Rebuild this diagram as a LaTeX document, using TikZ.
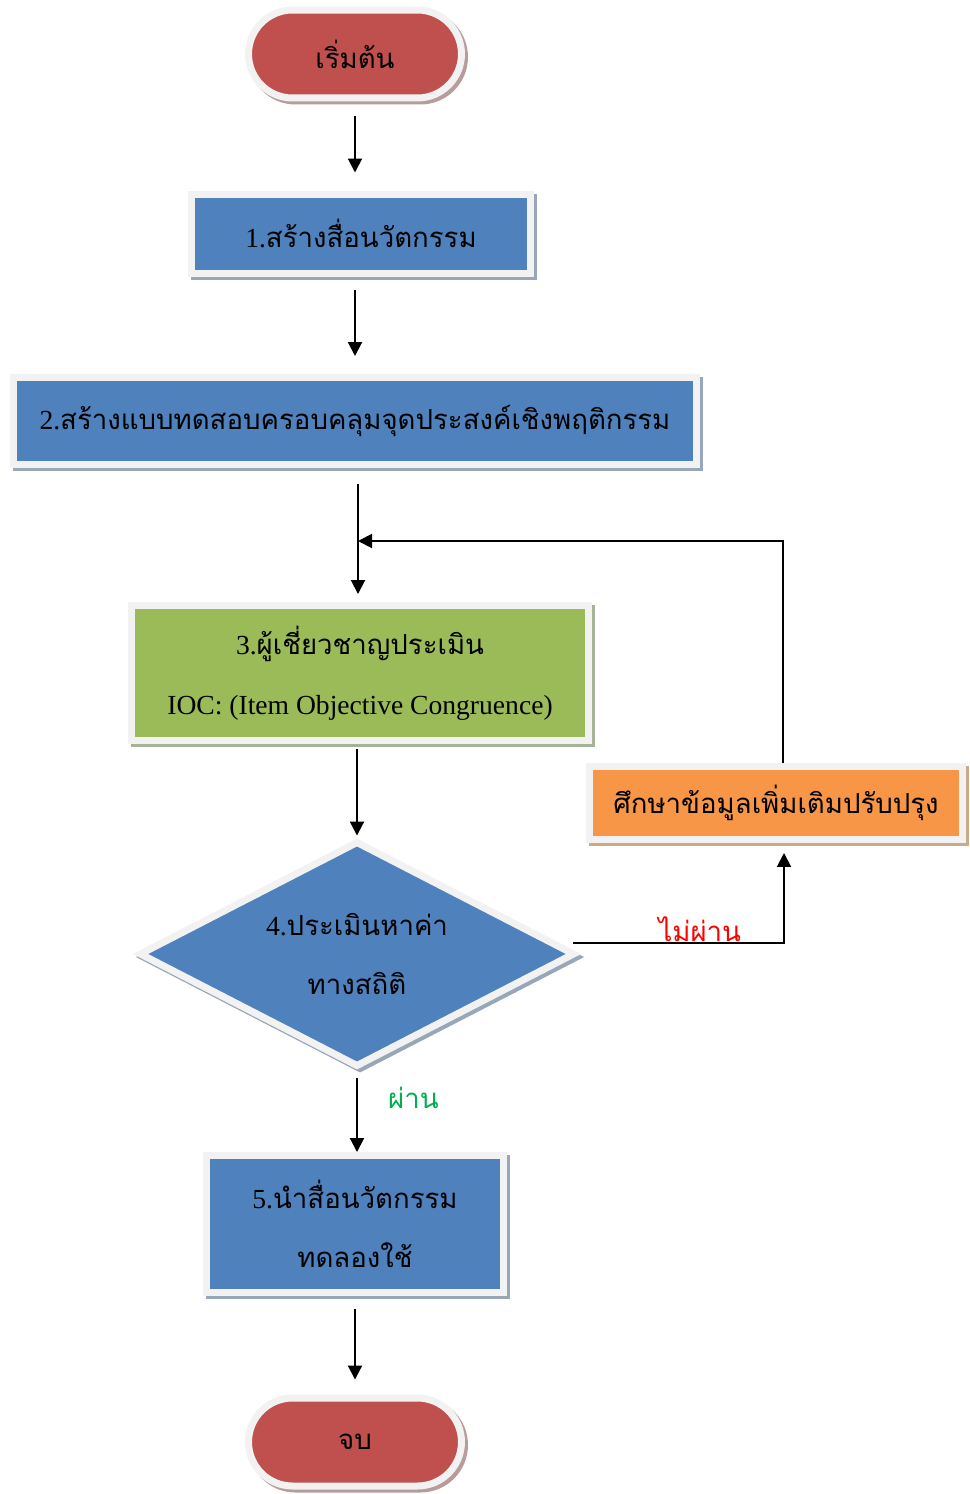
\documentclass[tikz,border=0pt]{standalone}
\usepackage{fontspec}
\setmainfont{Liberation Serif}
\newfontfamily\thai[Script=Thai]{Loma}
\usetikzlibrary{arrows.meta,positioning,shapes.geometric,shadows}

\definecolor{rimgray}{HTML}{F2F2F2}
\definecolor{startred}{HTML}{C0504D}
\definecolor{redshade}{HTML}{B79C9B}
\definecolor{stepblue}{HTML}{4F81BD}
\definecolor{blueshade}{HTML}{98A6BA}
\definecolor{stepgreen}{HTML}{9BBB59}
\definecolor{greenshade}{HTML}{A8B296}
\definecolor{steporange}{HTML}{F79646}
\definecolor{orangeshade}{HTML}{CDA98A}
\definecolor{passgreen}{HTML}{00B050}

\begin{document}
\begin{tikzpicture}[x=0.02cm, y=-0.02cm,
  flowbox/.style={rectangle, draw=rimgray, line width=0.14cm, inner sep=0pt, align=center,
    font=\fontsize{15.7}{34}\selectfont},
  shade/.style={drop shadow={shadow xshift=0.06cm, shadow yshift=-0.06cm, opacity=1,
    fill=#1, draw=#1, line width=0.14cm}},
  terminal/.style={flowbox, rounded corners=0.88cm, fill=startred, shade=redshade,
    minimum width=4.26cm, minimum height=1.76cm},
  arr/.style={-{Triangle[length=0.28cm,width=0.28cm]}, line width=0.04cm},
  edgelabel/.style={font=\fontsize{15.7}{18}\selectfont}
]
\useasboundingbox (0,0) rectangle (970,1494);

% Inicio
\node[terminal] (start) at (355,54) {\thai เริ่มต้น};

% Pasos
\node[flowbox, fill=stepblue, shade=blueshade, minimum width=6.8cm, minimum height=1.6cm]
  (media) at (361,234) {1.{\thai สร้างสื่อนวัตกรรม}};
\node[flowbox, fill=stepblue, shade=blueshade, minimum width=13.66cm, minimum height=1.74cm]
  (test) at (355,421) {2.{\thai สร้างแบบทดสอบครอบคลุมจุดประสงค์เชิงพฤติกรรม}};
\node[flowbox, fill=stepgreen, shade=greenshade, minimum width=9.14cm, minimum height=2.7cm]
  (expert) at (360,673) {3.{\thai ผู้เชี่ยวชาญประเมิน}\\IOC: (Item Objective Congruence)};
\node[flowbox, diamond, aspect=1.9, fill=stepblue, shade=blueshade,
  minimum width=8.72cm, minimum height=4.52cm]
  (stats) at (357,954) {4.{\thai ประเมินหาค่า}\\{\thai ทางสถิติ}};
\node[flowbox, fill=steporange, shade=orangeshade, minimum width=7.48cm, minimum height=1.46cm]
  (revise) at (776,803) {\thai ศึกษาข้อมูลเพิ่มเติมปรับปรุง};
\node[flowbox, fill=stepblue, shade=blueshade, minimum width=5.96cm, minimum height=2.74cm]
  (trial) at (355,1224) {5.{\thai นำสื่อนวัตกรรม}\\{\thai ทดลองใช้}};

% Fin
\node[terminal] (stop) at (355,1442) {\thai จบ};

% Conexiones
\coordinate (merge) at (358,541);
\draw[arr, shorten <=0.3cm, shorten >=0.36cm] (start.south) -- (start.south |- media.north);
\draw[arr, shorten <=0.26cm, shorten >=0.36cm] (start.south |- media.south) -- (start.south |- test.north);
\draw[arr, shorten <=0.32cm, shorten >=0.16cm] (merge |- test.south) -- (merge |- expert.north);
\draw[arr, shorten <=0.1cm, shorten >=0.04cm] (expert.south -| stats.north) -- (stats.north);
\draw[arr, shorten <=0.16cm] (stats.south) -- (stats.south |- trial.north);
\draw[arr, shorten <=0.26cm, shorten >=0.3cm] (trial.south) -- (stop.north);

% Retroalimentacion
\draw[arr, shorten >=0.2cm] ([xshift=-0.1cm, yshift=0.22cm]stats.east) -| ([xshift=0.16cm]revise.south)
  node[pos=0.3, above=-3pt, text=red, edgelabel] (fail) {\thai ไม่ผ่าน};
\draw[arr] ([xshift=0.14cm]revise.north) |- (merge);
\node[right=0.5cm of stats.south, yshift=-0.55cm, text=passgreen, edgelabel]
  (pass) {\thai ผ่าน};

\end{tikzpicture}
\end{document}
